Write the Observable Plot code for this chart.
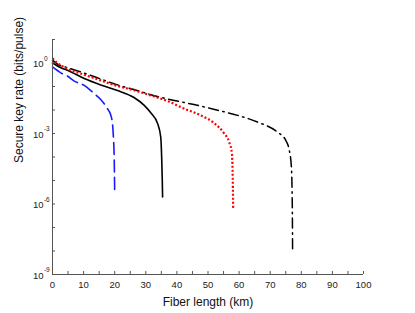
<!DOCTYPE html>
<html>
<head>
<meta charset="utf-8">
<script src="https://cdn.jsdelivr.net/npm/d3@7"></script>
<script src="https://cdn.jsdelivr.net/npm/@observablehq/plot@0.6"></script>
<style>
  html, body { margin: 0; padding: 0; background: #fff; }
</style>
</head>
<body>
<div id="chart"></div>
<script>
// ---- data ----
const blueKm   = [0, 2.7, 4.8, 7.0, 10.2, 13.4, 15.5, 17.7, 18.7, 19.3, 19.6, 19.85, 20.0];
const blueRate = [0.68, 0.38, 0.28, 0.17, 0.112, 0.05, 0.0282, 0.0112, 6.3e-3, 2.5e-3, 6.3e-4, 7.9e-5, 2.75e-6];

const blackKm   = [0, 2.7, 4.8, 10.2, 15.5, 20.9, 26.2, 29.5, 31.6, 33.8, 34.8, 35.1, 35.3, 35.4];
const blackRate = [1.0, 0.631, 0.49, 0.219, 0.117, 0.0676, 0.0339, 0.0158, 7.6e-3, 2.63e-3, 7.08e-4, 1e-4, 1e-5, 2.0e-6];

const redKm   = [0, 1.6, 4.8, 10.2, 15.5, 20.9, 26.2, 31.6, 37.0, 42.3, 47.7, 51.9, 55.2, 56.8, 57.7, 57.9, 58.1];
const redRate = [1.58, 1.0, 0.575, 0.316, 0.182, 0.105, 0.0692, 0.0417, 0.024, 0.0115, 5.89e-3, 2.82e-3, 1e-3, 4.37e-4, 1.38e-4, 2.69e-5, 5.75e-7];

const dashDotKm   = [0, 1.6, 4.8, 10.2, 15.5, 20.9, 26.2, 31.6, 38.0, 45.5, 53.1, 59.5, 65.9, 72.3, 75.0, 76.1, 76.8, 77.1, 77.2];
const dashDotRate = [1.32, 0.89, 0.63, 0.372, 0.209, 0.117, 0.0741, 0.0447, 0.0275, 0.017, 9.77e-3, 5.89e-3, 3.09e-3, 1.15e-3, 5.13e-4, 2.04e-4, 3.98e-5, 1e-6, 9.1e-9];

const xTickLabels = [0, 10, 20, 30, 40, 50, 60, 70, 80, 90, 100];
const xMinorTicks = [0, 5, 10, 15, 20, 25, 30, 35, 40, 45, 50, 55, 60, 65, 70, 75, 80, 85, 90, 95, 100];
const yTickLabels = [1e0, 1e-3, 1e-6, 1e-9];
const yTickExponents = ["0", "-3", "-6", "-9"];
const yMinorTicks = [1e1, 1e0, 1e-1, 1e-2, 1e-3, 1e-4, 1e-5, 1e-6, 1e-7, 1e-8, 1e-9];

const xTitle = "Fiber length (km)";
const yTitle = "Secure key rate (bits/pulse)";

// ---- layout ----
const W = 415, H = 313;
const mL = 52, mR = 52, mT = 39, mB = 39;
const plotW = W - mL - mR, plotH = H - mT - mB;
const font = "Liberation Sans, Arial, Helvetica, sans-serif";
const axisColor = "#555";

const toRows = (km, rate) => km.map((k, i) => ({km: k, rate: rate[i]}));
const blue = toRows(blueKm, blueRate);
const black = toRows(blackKm, blackRate);
const red = toRows(redKm, redRate);
const dashDot = toRows(dashDotKm, dashDotRate);

const chart = Plot.plot({
  width: W, height: H,
  marginLeft: mL, marginRight: mR, marginTop: mT, marginBottom: mB,
  style: {fontFamily: font, background: "#fff", overflow: "visible"},
  x: {domain: [0, 100], axis: null},
  y: {type: "log", domain: [1e-9, 1e1], axis: null},
  marks: [
    // curves
    Plot.line(dashDot, {x: "km", y: "rate", stroke: "#000", strokeWidth: 1.5, strokeDasharray: "10,4.5,1.5,4.5", curve: "monotone-x"}),
    Plot.line(black, {x: "km", y: "rate", stroke: "#000", strokeWidth: 1.6, curve: "monotone-x"}),
    Plot.line(blue, {x: "km", y: "rate", stroke: "#1a1aff", strokeWidth: 1.6, strokeDasharray: "12,5.5", curve: "monotone-x"}),
    Plot.line(red, {x: "km", y: "rate", stroke: "#ff0000", strokeWidth: 2.2, strokeDasharray: "2,2", strokeLinecap: "butt", curve: "monotone-x"}),
    // axis lines
    Plot.ruleX([0], {stroke: axisColor, strokeWidth: 1}),
    Plot.ruleY([1e-9], {stroke: axisColor, strokeWidth: 1}),
    // inward ticks
    Plot.ruleX(xMinorTicks, {x: d => d, insetTop: plotH - 3, stroke: axisColor}),
    Plot.ruleY(yMinorTicks, {y: d => d, insetRight: plotW - 3, stroke: axisColor}),
    // x tick labels
    Plot.text(xTickLabels, {x: d => d, text: d => String(d), frameAnchor: "bottom", dy: 13, fontSize: 9.5, fill: "#222"}),
    // y tick labels: base and exponent
    Plot.text(yTickLabels, {y: d => d, text: () => "10", frameAnchor: "left", textAnchor: "end", dx: -9, dy: 1, fontSize: 9.5, fill: "#222"}),
    Plot.text(yTickLabels, {y: d => d, text: (d, i) => yTickExponents[i], frameAnchor: "left", textAnchor: "start", dx: -8.6, dy: -4.5, fontSize: 6.5, fill: "#222"}),
    // axis titles
    Plot.text([xTitle], {frameAnchor: "bottom", dy: 31, fontSize: 12, fill: "#111"}),
    Plot.text([yTitle], {frameAnchor: "left", rotate: -90, dx: -33.5, dy: 6, fontSize: 12, fill: "#111"})
  ]
});
document.getElementById("chart").appendChild(chart);
</script>
</body>
</html>
